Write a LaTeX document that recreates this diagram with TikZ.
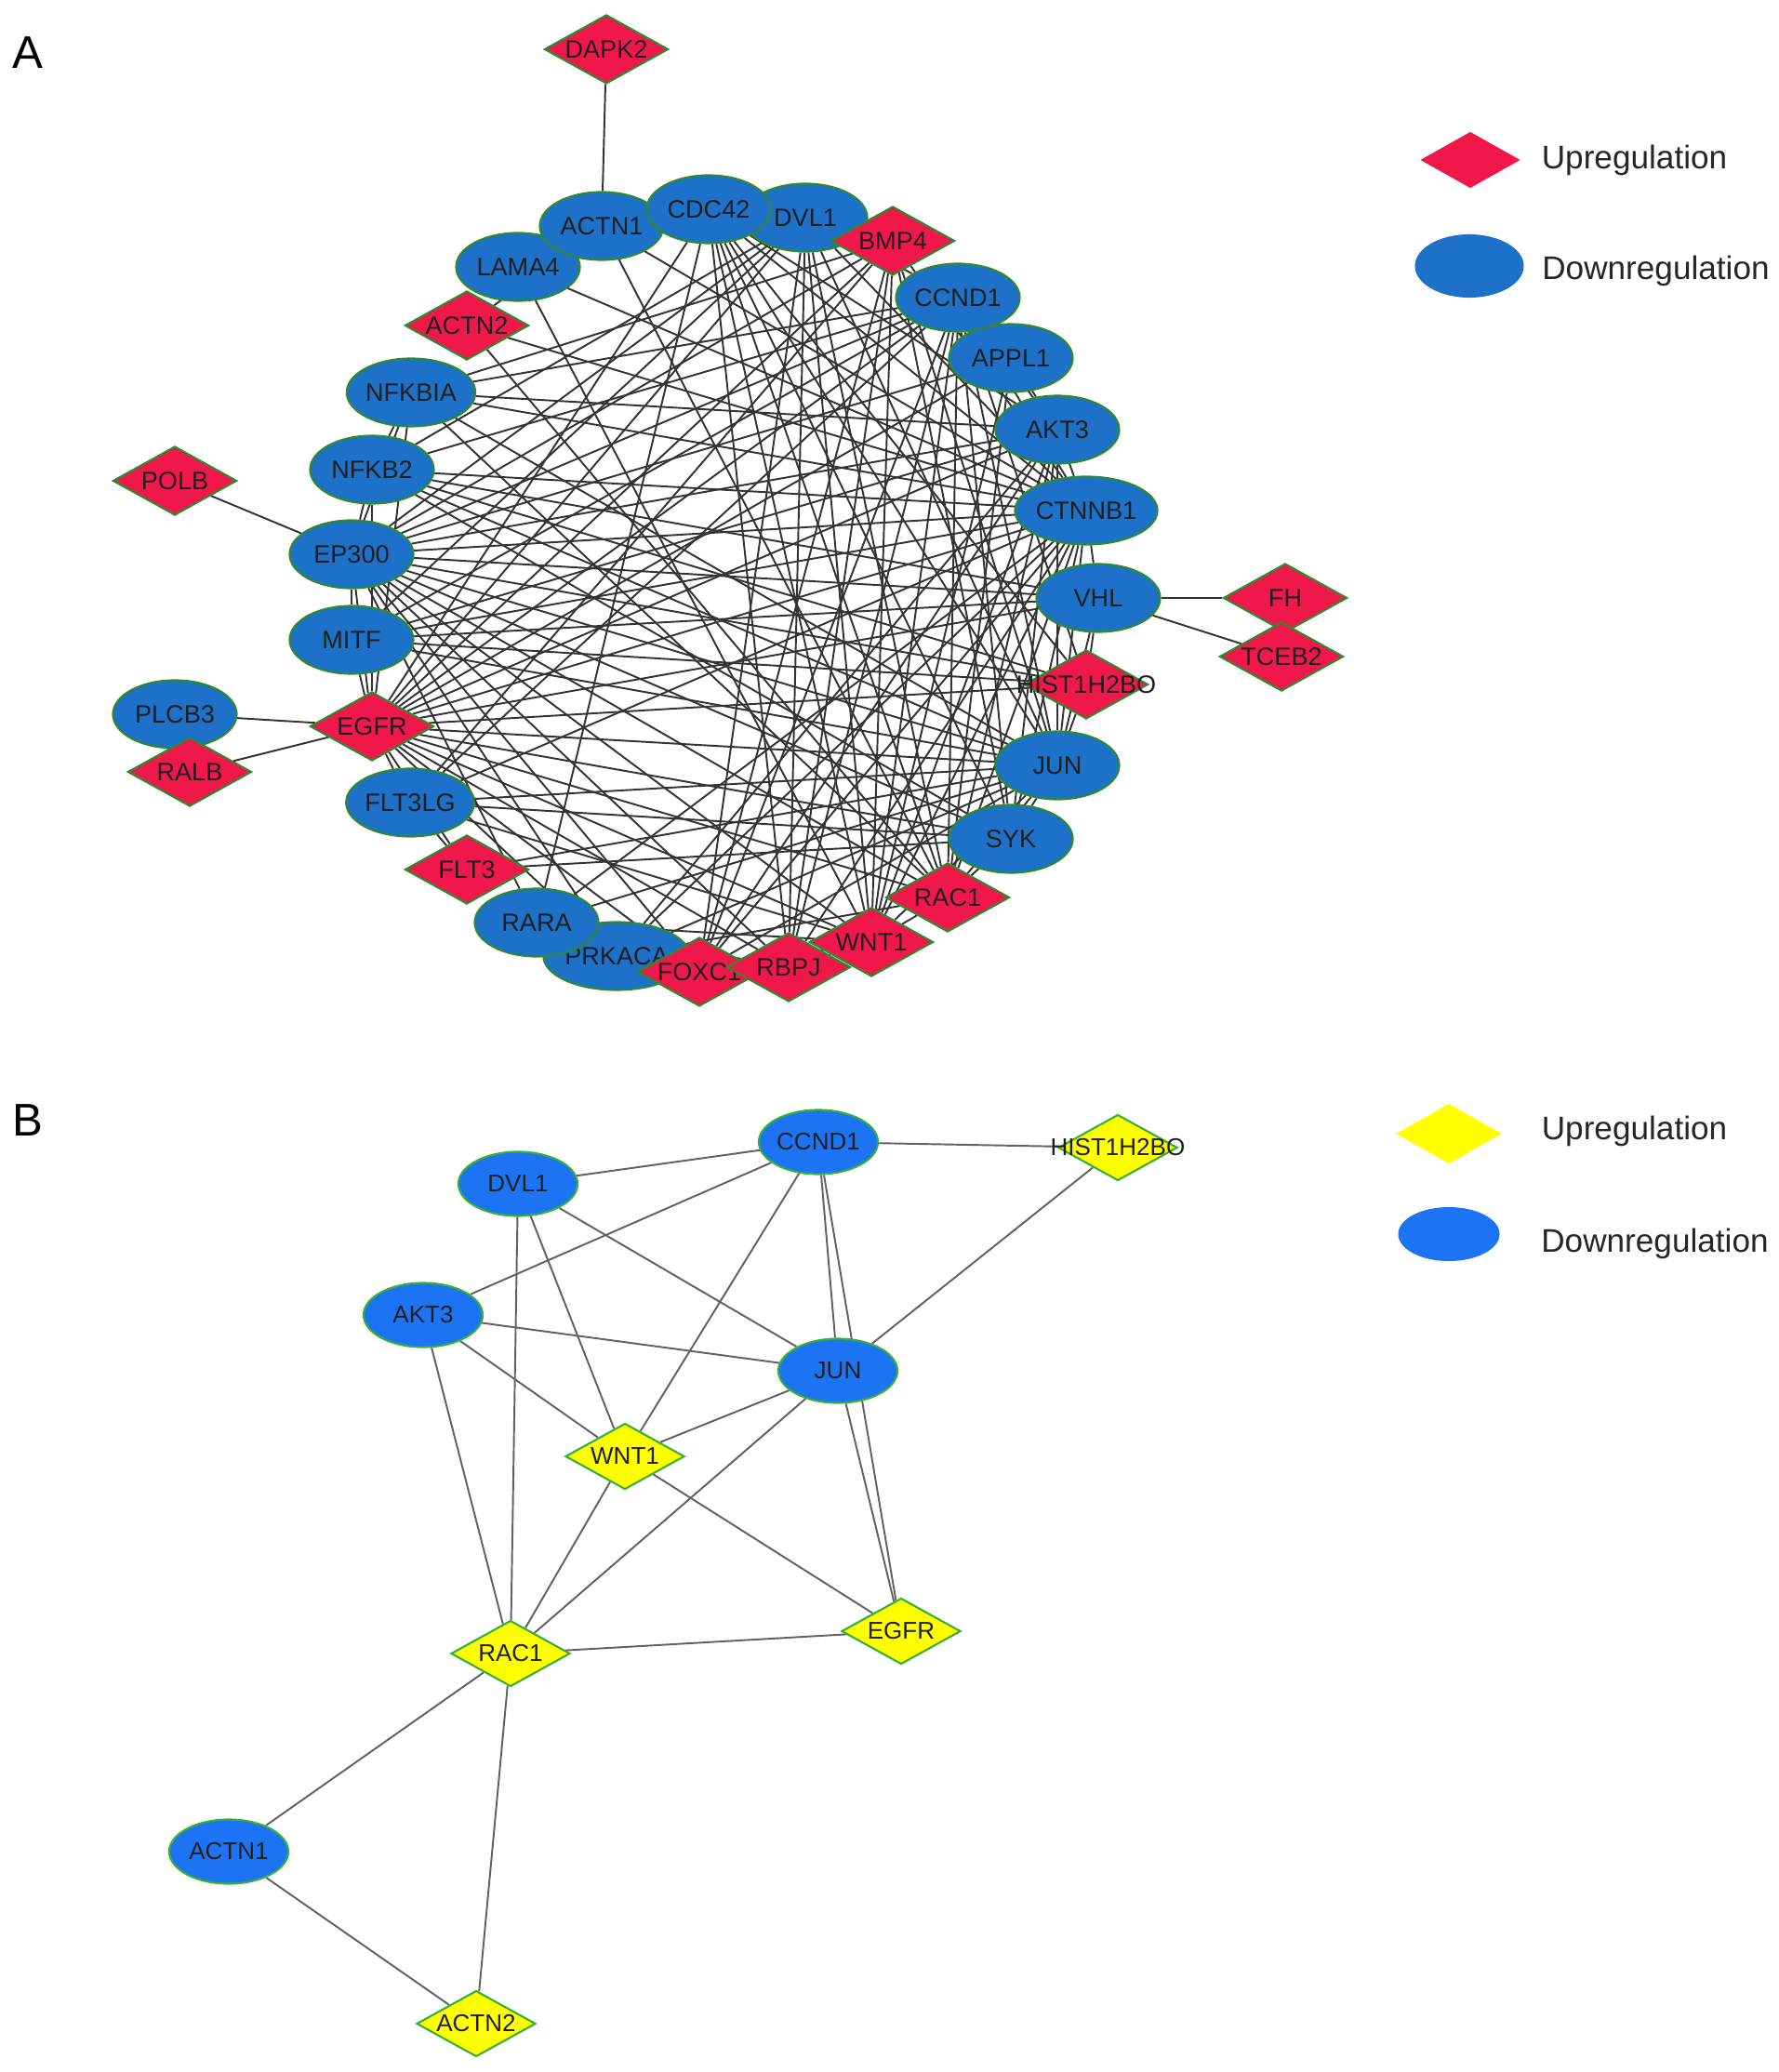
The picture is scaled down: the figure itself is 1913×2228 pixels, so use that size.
\documentclass[tikz,border=0pt]{standalone}
\usepackage{fontspec}
\setmainfont{Liberation Sans}
\usetikzlibrary{shapes.geometric,positioning}
\definecolor{upred}{HTML}{F0174B}
\definecolor{downblue}{HTML}{1E71C8}
\definecolor{upyellow}{HTML}{FFFF00}
\definecolor{downbright}{HTML}{1C74F4}
\definecolor{rimgreen}{HTML}{2F8A2F}
\definecolor{rimlight}{HTML}{36B036}
\pgfdeclarelayer{edges}
\pgfsetlayers{edges,main}
\tikzset{
  downA/.style={ellipse, draw=rimgreen, line width=0.6pt, fill=downblue,
    minimum width=1.33cm, minimum height=0.73cm, inner sep=0pt,
    font=\fontsize{7.7}{9}\selectfont, text=black!88},
  upA/.style={diamond, aspect=1.8, draw=rimgreen, line width=0.6pt, fill=upred,
    minimum width=1.33cm, minimum height=0.74cm, inner sep=0pt,
    font=\fontsize{7.7}{9}\selectfont, text=black!88},
  downB/.style={ellipse, draw=rimlight, line width=0.6pt, fill=downbright,
    minimum width=1.28cm, minimum height=0.69cm, inner sep=0pt,
    font=\fontsize{7.4}{9}\selectfont, text=black!88},
  upB/.style={diamond, aspect=1.8, draw=rimlight, line width=0.6pt, fill=upyellow,
    minimum width=1.28cm, minimum height=0.71cm, inner sep=0pt,
    font=\fontsize{7.4}{9}\selectfont, text=black!88},
  linkA/.style={draw=black!80, line width=0.55pt},
  linkB/.style={draw=black!62, line width=0.55pt},
  keytext/.style={font=\fontsize{10}{12}\selectfont, text=black!85, inner sep=0pt},
  tag/.style={font=\fontsize{14}{16}\selectfont, inner sep=0pt}
}
\begin{document}
\begin{tikzpicture}[x=0.01cm,y=-0.01cm]
  \useasboundingbox (0,0) rectangle (1913,2228);

  % panel A
  \node[tag] (tagA) at (30,57) {A};
  \node[upA] (aDAPK2) at (652,53) {DAPK2};
  \node[downA] (aLAMA4) at (557,287) {LAMA4};
  \node[downA] (aACTN1) at (647,243) {ACTN1};
  \node[downA] (aDVL1) at (866,234) {DVL1};
  \node[downA] (aCDC42) at (762,225) {CDC42};
  \node[downA] (aAPPL1) at (1087,385) {APPL1};
  \node[downA] (aCCND1) at (1030,320) {CCND1};
  \node[upA] (aBMP4) at (960,259) {BMP4};
  \node[upA] (aACTN2) at (502,350) {ACTN2};
  \node[downA] (aNFKBIA) at (442,422) {NFKBIA};
  \node[downA] (aAKT3) at (1137,462) {AKT3};
  \node[downA] (aNFKB2) at (400,505) {NFKB2};
  \node[upA] (aPOLB) at (188,517) {POLB};
  \node[downA] (aCTNNB1) at (1168,549) {CTNNB1};
  \node[downA] (aEP300) at (378,596) {EP300};
  \node[downA] (aVHL) at (1181,643) {VHL};
  \node[upA] (aFH) at (1382,643) {FH};
  \node[upA] (aTCEB2) at (1378,706) {TCEB2};
  \node[downA] (aMITF) at (378,688) {MITF};
  \node[upA] (aHIST1H2BO) at (1168,736) {\makebox[0pt]{HIST1H2BO}};
  \node[downA] (aPLCB3) at (188,768) {PLCB3};
  \node[upA] (aRALB) at (204,830) {RALB};
  \node[upA] (aEGFR) at (400,781) {EGFR};
  \node[downA] (aJUN) at (1137,823) {JUN};
  \node[downA] (aFLT3LG) at (441,863) {FLT3LG};
  \node[downA] (aSYK) at (1087,902) {SYK};
  \node[upA] (aFLT3) at (502,935) {FLT3};
  \node[upA] (aRAC1) at (1019,965) {RAC1};
  \node[downA] (aPRKACA) at (663,1028) {PRKACA};
  \node[downA] (aRARA) at (577,992) {RARA};
  \node[upA] (aWNT1) at (937,1013) {WNT1};
  \node[upA] (aFOXC1) at (752,1045) {FOXC1};
  \node[upA] (aRBPJ) at (848,1040) {RBPJ};

  \node[upA, draw=none, minimum width=1.08cm, minimum height=0.61cm] (keyUpA) at (1581,172) {};
  \node[downA, draw=none, minimum width=1.17cm, minimum height=0.68cm] (keyDownA) at (1580,286) {};
  \node[keytext, right=0.21cm of keyUpA] (txtUpA) {Upregulation};
  \node[keytext, right=0.18cm of keyDownA, yshift=-0.05cm] (txtDownA) {Downregulation};

  \begin{pgfonlayer}{edges}
    \foreach \p/\q in {DAPK2/ACTN1, POLB/EP300, PLCB3/EGFR, RALB/EGFR, VHL/FH, VHL/TCEB2,
      CCND1/HIST1H2BO, CCND1/DVL1, CCND1/AKT3, CCND1/WNT1, CCND1/JUN, CCND1/EGFR,
      DVL1/JUN, DVL1/WNT1, DVL1/RAC1, AKT3/JUN, AKT3/WNT1, AKT3/RAC1,
      JUN/HIST1H2BO, JUN/WNT1, JUN/RAC1, JUN/EGFR, WNT1/RAC1, WNT1/EGFR,
      RAC1/EGFR, RAC1/ACTN1, RAC1/ACTN2, ACTN1/ACTN2}
      \draw[linkA] (a\p) -- (a\q);
    \foreach \q in {CDC42, DVL1, CCND1, AKT3, EP300, MITF, EGFR, JUN, WNT1, RBPJ, FOXC1,
      PRKACA, RARA, NFKBIA, NFKB2, ACTN1, ACTN2, BMP4, VHL, SYK, RAC1, FLT3LG}
      \draw[linkA] (aCTNNB1) -- (a\q);
    \foreach \q in {NFKBIA, NFKB2, MITF, JUN, RARA, RBPJ, FOXC1, CCND1, VHL, HIST1H2BO,
      AKT3, EGFR, SYK, PRKACA, WNT1, DVL1, BMP4, APPL1, RAC1}
      \draw[linkA] (aEP300) -- (a\q);
    \foreach \q in {CDC42, SYK, AKT3, FLT3, PRKACA, APPL1, MITF, NFKB2, NFKBIA, VHL,
      HIST1H2BO, FLT3LG, RBPJ, DVL1, BMP4, FOXC1}
      \draw[linkA] (aEGFR) -- (a\q);
    \foreach \q in {NFKBIA, NFKB2, MITF, RARA, SYK, FLT3LG, FLT3, VHL, BMP4, CDC42,
      PRKACA, FOXC1}
      \draw[linkA] (aJUN) -- (a\q);
    \foreach \p/\q in {CCND1/NFKBIA, CCND1/NFKB2, CCND1/MITF, CCND1/RAC1, CCND1/SYK,
      CCND1/FLT3LG, CCND1/RBPJ, CCND1/FOXC1, CDC42/RAC1, CDC42/WNT1, CDC42/SYK,
      CDC42/RBPJ, CDC42/HIST1H2BO, CDC42/RARA, CDC42/AKT3, DVL1/RBPJ, DVL1/FOXC1,
      DVL1/BMP4, DVL1/NFKB2, DVL1/MITF, BMP4/WNT1, BMP4/RBPJ, BMP4/FOXC1,
      BMP4/FLT3LG, BMP4/NFKBIA, BMP4/SYK, AKT3/NFKBIA, AKT3/APPL1, AKT3/SYK,
      AKT3/FOXC1, AKT3/PRKACA, AKT3/MITF, APPL1/RAC1, APPL1/WNT1, VHL/HIST1H2BO,
      VHL/NFKB2, VHL/MITF, SYK/FLT3LG, SYK/FLT3, SYK/RAC1, SYK/NFKB2, FLT3/FLT3LG,
      RARA/RBPJ, RBPJ/WNT1, NFKBIA/NFKB2, NFKBIA/RAC1, LAMA4/ACTN1, LAMA4/WNT1,
      LAMA4/CTNNB1, MITF/HIST1H2BO, RARA/WNT1, PRKACA/RAC1, FOXC1/WNT1,
      HIST1H2BO/NFKB2, FLT3LG/WNT1}
      \draw[linkA] (a\p) -- (a\q);
  \end{pgfonlayer}

  % panel B
  \node[tag] (tagB) at (30,1205) {B};
  \node[downB] (bCCND1) at (880,1228) {CCND1};
  \node[upB] (bHIST1H2BO) at (1202,1234) {\makebox[0pt]{HIST1H2BO}};
  \node[downB] (bDVL1) at (557,1273) {DVL1};
  \node[downB] (bAKT3) at (455,1414) {AKT3};
  \node[downB] (bJUN) at (901,1474) {JUN};
  \node[upB] (bWNT1) at (672,1566) {WNT1};
  \node[upB] (bRAC1) at (549,1778) {RAC1};
  \node[upB] (bEGFR) at (969,1754) {EGFR};
  \node[downB] (bACTN1) at (246,1991) {ACTN1};
  \node[upB] (bACTN2) at (512,2176) {ACTN2};

  \node[upB, draw=none, minimum width=1.14cm, minimum height=0.65cm] (keyUpB) at (1558,1219) {};
  \node[downB, draw=none, minimum width=1.09cm, minimum height=0.58cm] (keyDownB) at (1558,1327) {};
  \node[keytext, right=0.41cm of keyUpB, yshift=0.03cm] (txtUpB) {Upregulation};
  \node[keytext, right=0.43cm of keyDownB, yshift=-0.1cm] (txtDownB) {Downregulation};

  \begin{pgfonlayer}{edges}
    \foreach \p/\q in {CCND1/HIST1H2BO, CCND1/DVL1, CCND1/AKT3, CCND1/WNT1, CCND1/JUN,
      CCND1/EGFR, DVL1/JUN, DVL1/WNT1, DVL1/RAC1, AKT3/JUN, AKT3/WNT1, AKT3/RAC1,
      JUN/HIST1H2BO, JUN/WNT1, JUN/RAC1, JUN/EGFR, WNT1/RAC1, WNT1/EGFR,
      RAC1/EGFR, RAC1/ACTN1, RAC1/ACTN2, ACTN1/ACTN2}
      \draw[linkB] (b\p) -- (b\q);
  \end{pgfonlayer}
\end{tikzpicture}
\end{document}
